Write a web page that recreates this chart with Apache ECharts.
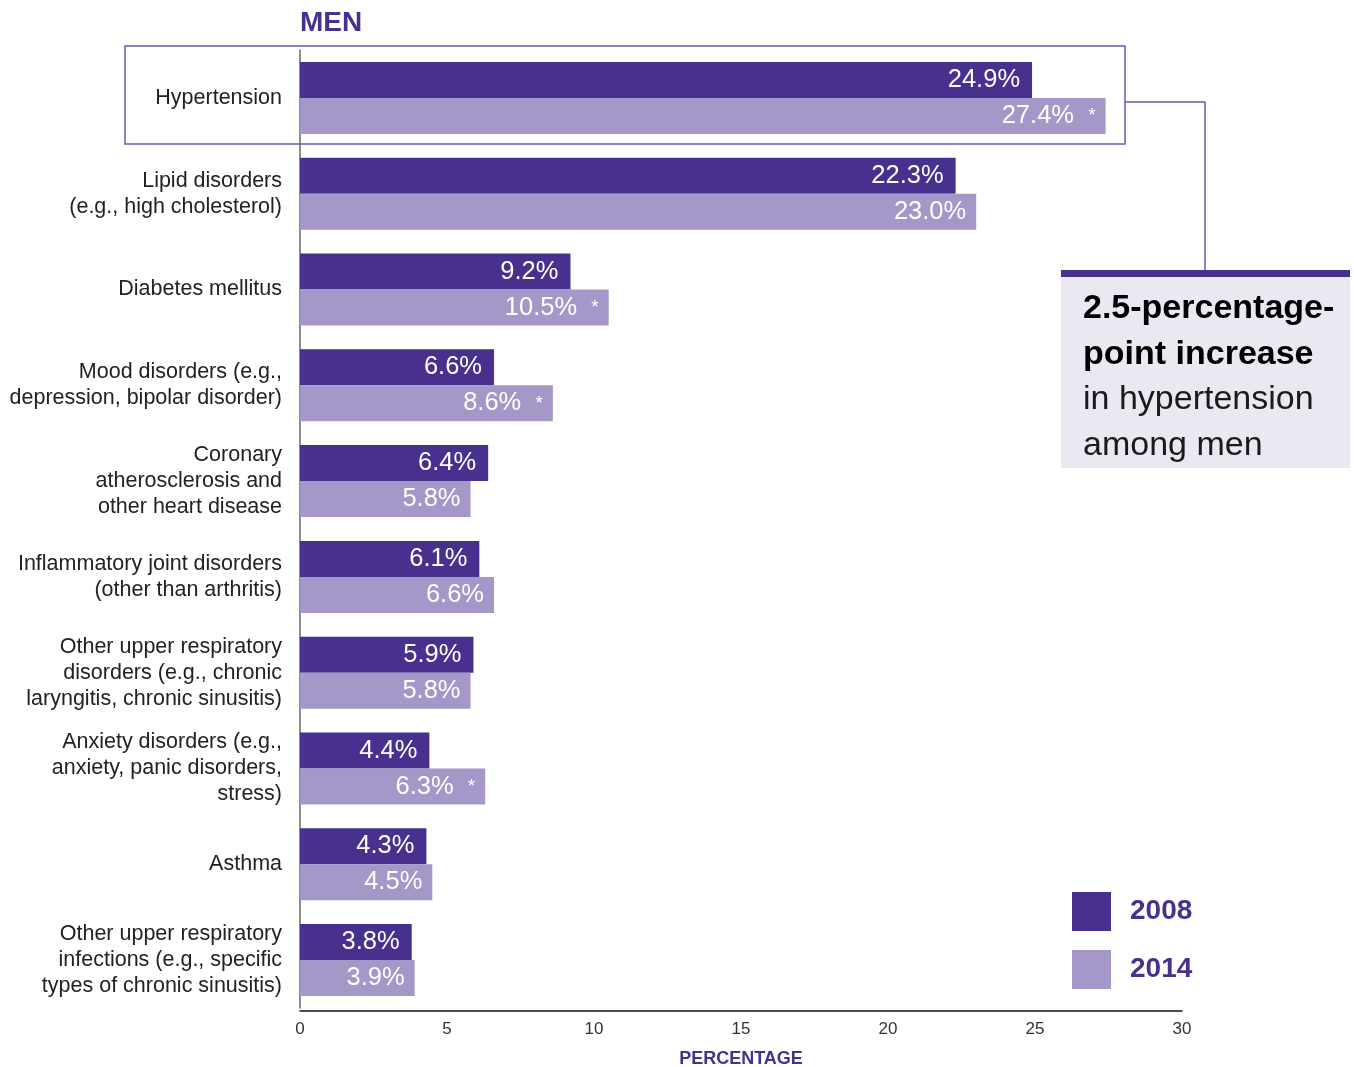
<!DOCTYPE html>
<html>
<head>
<meta charset="utf-8">
<script src="https://cdn.jsdelivr.net/npm/echarts@6/dist/echarts.min.js"></script>
<style>
  html, body { margin: 0; padding: 0; background: #ffffff; }
  #chart { width: 1354px; height: 1067px; }
</style>
</head>
<body>
<div id="chart"></div>
<script>
// conditions, top to bottom
const categories = [
  'Hypertension',
  'Lipid disorders\n(e.g., high cholesterol)',
  'Diabetes mellitus',
  'Mood disorders (e.g.,\ndepression, bipolar disorder)',
  'Coronary\natherosclerosis and\nother heart disease',
  'Inflammatory joint disorders\n(other than arthritis)',
  'Other upper respiratory\ndisorders (e.g., chronic\nlaryngitis, chronic sinusitis)',
  'Anxiety disorders (e.g.,\nanxiety, panic disorders,\nstress)',
  'Asthma',
  'Other upper respiratory\ninfections (e.g., specific\ntypes of chronic sinusitis)'
];
const values2008 = [24.9, 22.3, 9.2, 6.6, 6.4, 6.1, 5.9, 4.4, 4.3, 3.8];
const values2014 = [27.4, 23.0, 10.5, 8.6, 5.8, 6.6, 5.8, 6.3, 4.5, 3.9];
// significant change marked with *
const significant2014 = [true, false, true, true, false, false, false, true, false, false];
const xTicks = [0, 5, 10, 15, 20, 25, 30];

const DARK = '#48308f';
const LIGHT = '#a597c8';
const FONT = '"Liberation Sans", Arial, sans-serif';

const chart = echarts.init(document.getElementById('chart'), null, { renderer: 'canvas' });

chart.setOption({
  animation: false,
  title: {
    text: 'MEN',
    left: 295,
    top: 4,
    textStyle: { color: DARK, fontSize: 28, fontWeight: 'bold', fontFamily: FONT }
  },
  legend: {
    orient: 'vertical',
    left: 1067,
    top: 887,
    itemWidth: 39,
    itemHeight: 39,
    itemGap: 19,
    icon: 'rect',
    data: ['2008', '2014'],
    textStyle: { color: DARK, fontSize: 28, fontWeight: 'bold', fontFamily: FONT, padding: [3, 0, 0, 14] }
  },
  grid: { left: 300, right: 172, top: 50, bottom: 59, outerBoundsMode: 'none' },
  xAxis: {
    type: 'value',
    min: xTicks[0],
    max: xTicks[xTicks.length - 1],
    interval: 5,
    offset: 3,
    name: 'PERCENTAGE',
    nameLocation: 'middle',
    nameGap: 39,
    nameTextStyle: { color: DARK, fontSize: 18, fontWeight: 'bold', fontFamily: FONT },
    axisLine: { show: true, lineStyle: { color: '#111', width: 1.5 } },
    axisTick: { show: false },
    splitLine: { show: false },
    axisLabel: { color: '#333', fontSize: 17, margin: 10, fontFamily: FONT }
  },
  yAxis: {
    type: 'category',
    inverse: true,
    data: categories,
    axisLine: { show: true, lineStyle: { color: '#666', width: 1.5 } },
    axisTick: { show: false },
    axisLabel: {
      color: '#222',
      fontSize: 21.5,
      lineHeight: 26,
      margin: 18,
      align: 'right',
      fontFamily: FONT
    }
  },
  series: [
    {
      name: '2008',
      type: 'bar',
      data: values2008,
      barWidth: 36,
      barGap: '0%',
      itemStyle: { color: DARK },
      label: {
        show: true,
        position: 'insideRight',
        distance: 12,
        color: '#fff',
        fontSize: 25.5,
        fontFamily: FONT,
        formatter: p => p.value.toFixed(1) + '%'
      }
    },
    {
      name: '2014',
      type: 'bar',
      data: values2014,
      barWidth: 36,
      barGap: '0%',
      itemStyle: { color: LIGHT },
      label: {
        show: true,
        position: 'insideRight',
        distance: 10,
        color: '#fff',
        fontSize: 25.5,
        fontFamily: FONT,
        formatter: p => p.value.toFixed(1) + '%' + (significant2014[p.dataIndex] ? '  {s|*}' : ''),
        rich: { s: { color: '#fff', fontSize: 19, fontFamily: FONT } }
      }
    }
  ],
  graphic: [
    {
      type: 'rect',
      z: 10,
      shape: { x: 125, y: 46, width: 1000, height: 98 },
      style: { fill: 'none', stroke: '#6b5bb3', lineWidth: 1.5 }
    },
    {
      type: 'polyline',
      z: 10,
      shape: { points: [[1125, 102], [1205, 102], [1205, 270]] },
      style: { fill: 'none', stroke: '#6b5bb3', lineWidth: 1.5 }
    },
    {
      type: 'rect',
      z: 10,
      shape: { x: 1061, y: 270, width: 289, height: 198 },
      style: { fill: '#ebe8f2' }
    },
    {
      type: 'rect',
      z: 11,
      shape: { x: 1061, y: 270, width: 289, height: 7 },
      style: { fill: DARK }
    },
    {
      type: 'text',
      z: 12,
      left: 1083,
      top: 286,
      style: {
        text: '2.5-percentage-\npoint increase',
        fill: '#000',
        font: 'bold 34px ' + FONT,
        lineHeight: 46
      }
    },
    {
      type: 'text',
      z: 12,
      left: 1083,
      top: 377,
      style: {
        text: 'in hypertension\namong men',
        fill: '#1a1a1a',
        font: '34px ' + FONT,
        lineHeight: 46
      }
    }
  ]
});
</script>
</body>
</html>
